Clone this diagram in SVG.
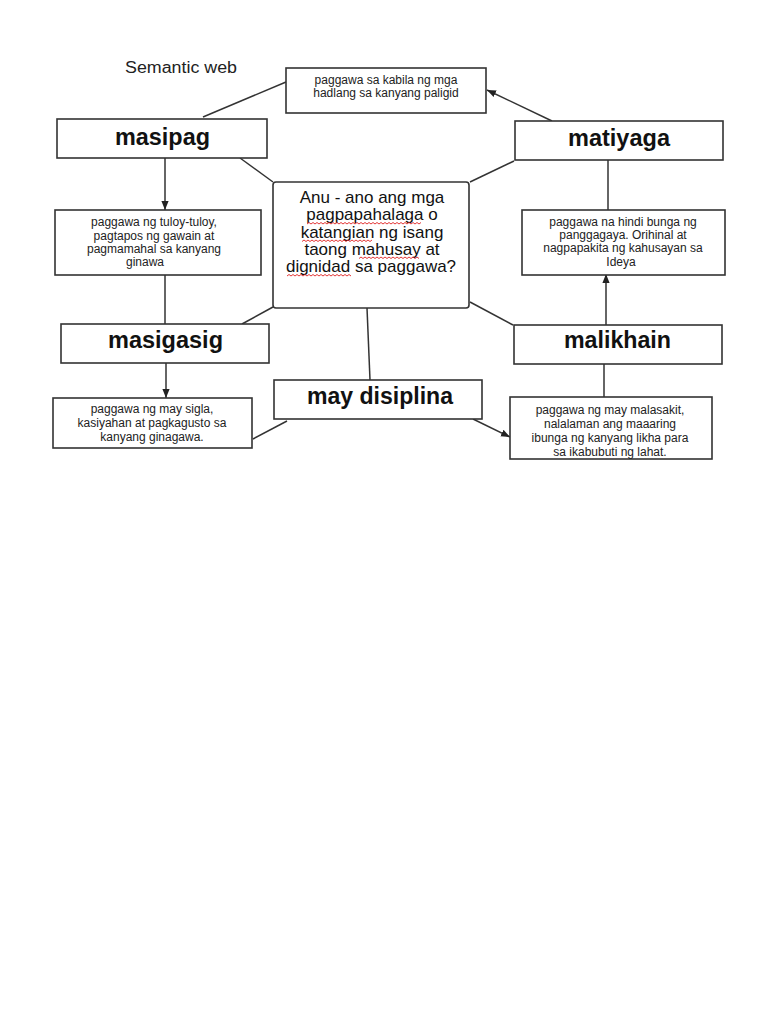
<svg xmlns="http://www.w3.org/2000/svg" width="768" height="1024" viewBox="0 0 768 1024">
<style>
.bg{fill:#ffffff}
.box{fill:#ffffff;stroke:#333333;stroke-width:1.6}
.lbl{font-family:"Liberation Sans",Arial,sans-serif;font-weight:bold;font-size:23px;fill:#111111;text-anchor:middle}
.sm{font-family:"Liberation Sans",Arial,sans-serif;font-size:12px;fill:#222222;text-anchor:middle}
.q{font-family:"Liberation Sans",Arial,sans-serif;font-size:17px;fill:#111111;text-anchor:middle}
.ttl{font-family:"Liberation Sans",Arial,sans-serif;font-size:16px;fill:#222222}
.ln{fill:none;stroke:#333333;stroke-width:1.5}
.sq{fill:none;stroke:#e02020;stroke-width:0.9}
</style>
<defs>
<marker id="ah" viewBox="0 0 10 10" refX="10" refY="5" markerWidth="9" markerHeight="9" orient="auto" markerUnits="userSpaceOnUse">
<path d="M0,1 L10,5 L0,9 z" fill="#222222"/>
</marker>
</defs>
<rect class="bg" x="0" y="0" width="768" height="1024"/>
<text class="ttl" x="125" y="73" textLength="112" lengthAdjust="spacingAndGlyphs">Semantic web</text>

<g id="connectors">
<line class="ln" x1="203" y1="117" x2="286" y2="82"/>
<line class="ln" x1="552" y1="121" x2="487" y2="90" marker-end="url(#ah)"/>
<line class="ln" x1="240" y1="158" x2="273" y2="182"/>
<line class="ln" x1="514" y1="161" x2="470" y2="182"/>
<line class="ln" x1="165" y1="158" x2="165" y2="210" marker-end="url(#ah)"/>
<line class="ln" x1="608" y1="160" x2="608" y2="210"/>
<line class="ln" x1="165" y1="275" x2="165" y2="324"/>
<line class="ln" x1="273" y1="307" x2="242" y2="324"/>
<line class="ln" x1="470" y1="302" x2="513" y2="325"/>
<line class="ln" x1="606" y1="325" x2="606" y2="274" marker-end="url(#ah)"/>
<line class="ln" x1="367" y1="308" x2="370" y2="380"/>
<line class="ln" x1="166" y1="363" x2="166" y2="398" marker-end="url(#ah)"/>
<line class="ln" x1="604" y1="364" x2="604" y2="397"/>
<line class="ln" x1="287" y1="421" x2="253" y2="439"/>
<line class="ln" x1="473" y1="419" x2="510" y2="437" marker-end="url(#ah)"/>
</g>

<g id="node-hadlang">
<rect class="box" x="286" y="68" width="200" height="45"/>
<text class="sm" x="386" y="84">paggawa sa kabila ng mga</text>
<text class="sm" x="386" y="97">hadlang sa kanyang paligid</text>
</g>

<g id="node-masipag">
<rect class="box" x="57" y="119" width="210" height="39"/>
<text class="lbl" x="162.5" y="145" textLength="95" lengthAdjust="spacingAndGlyphs">masipag</text>
</g>

<g id="node-matiyaga">
<rect class="box" x="515" y="121" width="208" height="39"/>
<text class="lbl" x="619" y="146" textLength="102" lengthAdjust="spacingAndGlyphs">matiyaga</text>
</g>

<g id="node-center">
<rect class="box" x="273" y="182" width="196" height="126" rx="3"/>
<text class="q" x="372" y="203">Anu - ano ang mga</text>
<text class="q" x="372" y="220">pagpapahalaga o</text>
<text class="q" x="372" y="237.5">katangian ng isang</text>
<text class="q" x="372" y="254.5">taong mahusay at</text>
<text class="q" x="371" y="272">dignidad sa paggawa?</text>
<path class="sq" d="M307,224 l2,-1.5 l2,1.5 l2,-1.5 l2,1.5 l2,-1.5 l2,1.5 l2,-1.5 l2,1.5 l2,-1.5 l2,1.5 l2,-1.5 l2,1.5 l2,-1.5 l2,1.5 l2,-1.5 l2,1.5 l2,-1.5 l2,1.5 l2,-1.5 l2,1.5 l2,-1.5 l2,1.5 l2,-1.5 l2,1.5 l2,-1.5 l2,1.5 l2,-1.5 l2,1.5 l2,-1.5 l2,1.5 l2,-1.5 l2,1.5 l2,-1.5 l2,1.5 l2,-1.5 l2,1.5 l2,-1.5 l2,1.5 l2,-1.5 l2,1.5 l2,-1.5 l2,1.5 l2,-1.5 l2,1.5 l2,-1.5 l2,1.5 l2,-1.5 l2,1.5 l2,-1.5 l2,1.5 l2,-1.5 l2,1.5 l2,-1.5 l2,1.5 l2,-1.5 l2,1.5 l2,-1.5"/>
<path class="sq" d="M302,241.5 l2,-1.5 l2,1.5 l2,-1.5 l2,1.5 l2,-1.5 l2,1.5 l2,-1.5 l2,1.5 l2,-1.5 l2,1.5 l2,-1.5 l2,1.5 l2,-1.5 l2,1.5 l2,-1.5 l2,1.5 l2,-1.5 l2,1.5 l2,-1.5 l2,1.5 l2,-1.5 l2,1.5 l2,-1.5 l2,1.5 l2,-1.5 l2,1.5 l2,-1.5 l2,1.5 l2,-1.5 l2,1.5 l2,-1.5 l2,1.5 l2,-1.5 l2,1.5 l2,-1.5"/>
<path class="sq" d="M359,258.5 l2,-1.5 l2,1.5 l2,-1.5 l2,1.5 l2,-1.5 l2,1.5 l2,-1.5 l2,1.5 l2,-1.5 l2,1.5 l2,-1.5 l2,1.5 l2,-1.5 l2,1.5 l2,-1.5 l2,1.5 l2,-1.5 l2,1.5 l2,-1.5 l2,1.5 l2,-1.5 l2,1.5 l2,-1.5 l2,1.5 l2,-1.5 l2,1.5 l2,-1.5 l2,1.5 l2,-1.5 l2,1.5"/>
<path class="sq" d="M287,276 l2,-1.5 l2,1.5 l2,-1.5 l2,1.5 l2,-1.5 l2,1.5 l2,-1.5 l2,1.5 l2,-1.5 l2,1.5 l2,-1.5 l2,1.5 l2,-1.5 l2,1.5 l2,-1.5 l2,1.5 l2,-1.5 l2,1.5 l2,-1.5 l2,1.5 l2,-1.5 l2,1.5 l2,-1.5 l2,1.5 l2,-1.5 l2,1.5 l2,-1.5 l2,1.5 l2,-1.5 l2,1.5 l2,-1.5 l2,1.5"/>
</g>

<g id="node-desc-masipag">
<rect class="box" x="55" y="210" width="206" height="65"/>
<text class="sm" x="154" y="225.5">paggawa ng tuloy-tuloy,</text>
<text class="sm" x="154" y="239.5">pagtapos ng gawain at</text>
<text class="sm" x="154" y="253">pagmamahal sa kanyang</text>
<text class="sm" x="145" y="266">ginawa</text>
</g>

<g id="node-desc-matiyaga">
<rect class="box" x="522" y="210" width="203" height="65"/>
<text class="sm" x="623" y="225.5">paggawa na hindi bunga ng</text>
<text class="sm" x="623" y="239">panggagaya. Orihinal at</text>
<text class="sm" x="623" y="252">nagpapakita ng kahusayan sa</text>
<text class="sm" x="621" y="265.5">Ideya</text>
</g>

<g id="node-masigasig">
<rect class="box" x="61" y="324" width="208" height="39"/>
<text class="lbl" x="165.5" y="348" textLength="115" lengthAdjust="spacingAndGlyphs">masigasig</text>
</g>

<g id="node-malikhain">
<rect class="box" x="514" y="325" width="208" height="39"/>
<text class="lbl" x="617.5" y="348" textLength="107" lengthAdjust="spacingAndGlyphs">malikhain</text>
</g>

<g id="node-may-disiplina">
<rect class="box" x="274" y="380" width="208" height="39"/>
<text class="lbl" x="380" y="404" textLength="146" lengthAdjust="spacingAndGlyphs">may disiplina</text>
</g>

<g id="node-desc-masigasig">
<rect class="box" x="53" y="398" width="199" height="50"/>
<text class="sm" x="152" y="413">paggawa ng may sigla,</text>
<text class="sm" x="152" y="427">kasiyahan at pagkagusto sa</text>
<text class="sm" x="152" y="440.5">kanyang ginagawa.</text>
</g>

<g id="node-desc-malikhain">
<rect class="box" x="510" y="397" width="202" height="62"/>
<text class="sm" x="610" y="414">paggawa ng may malasakit,</text>
<text class="sm" x="610" y="428">nalalaman ang maaaring</text>
<text class="sm" x="610" y="442">ibunga ng kanyang likha para</text>
<text class="sm" x="610" y="455.5">sa ikabubuti ng lahat.</text>
</g>
</svg>
